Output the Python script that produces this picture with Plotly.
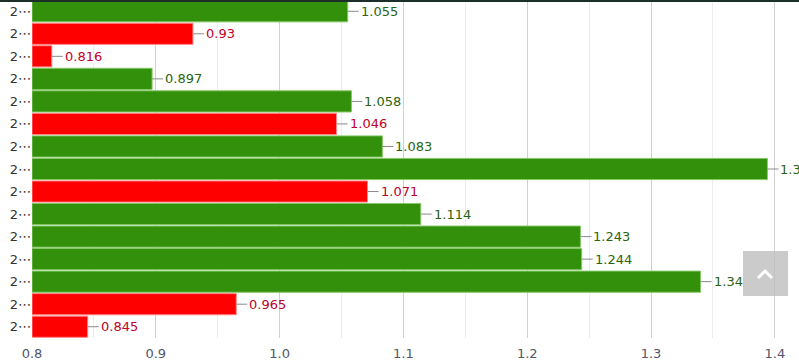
import plotly.graph_objects as go

categories = [f"c{i:02d}" for i in range(1, 16)]
tick_labels = ["2\u22ef"] * 15
values = [1.055, 0.93, 0.816, 0.897, 1.058, 1.046, 1.083, 1.394, 1.071, 1.114, 1.243, 1.244, 1.34, 0.965, 0.845]
is_up = [True, False, False, True, True, False, True, True, False, True, True, True, True, False, False]

BASE = 0.8
GREEN = "#33900a"
RED = "#ff0000"
bar_colors = [GREEN if u else RED for u in is_up]
edge_colors = ["#86c868" if u else "#ff8a8a" for u in is_up]
text_colors = ["#2a6410" if u else "#c0002a" for u in is_up]

fig = go.Figure()
fig.add_trace(go.Bar(
    y=categories, x=[v - BASE for v in values], orientation="h",
    base=BASE,
    marker=dict(color=bar_colors, line=dict(color=edge_colors, width=1)),
    hovertext=[f"{v:g}" for v in values], hoverinfo="text",
))

for c, v, tc in zip(categories, values, text_colors):
    fig.add_annotation(
        x=v, y=c, xref="x", yref="y", text=f"{v:g}",
        showarrow=True, arrowhead=0, arrowwidth=1, arrowcolor="#8a8a8a",
        ax=11, ay=0, xanchor="left", standoff=0, startstandoff=0,
        font=dict(family="DejaVu Sans", size=13, color=tc),
    )

# top dark rule
fig.add_shape(type="rect", xref="paper", yref="paper", x0=-0.1, x1=1.1,
              ysizemode="pixel", yanchor=1, y0=-2, y1=0,
              fillcolor="#1c2e28", line=dict(width=0))
# scroll-to-top button overlay
fig.add_shape(type="rect", xref="paper", yref="paper",
              x0=0.927, x1=0.9857, y0=0.1243, y1=0.2574,
              fillcolor="rgba(190,190,190,0.8)", line=dict(width=0))
fig.add_shape(type="path", xref="paper", yref="paper",
              path="M 0.9465 0.1775 L 0.9557 0.1982 L 0.9648 0.1775",
              line=dict(color="white", width=3))

fig.update_layout(
    width=799, height=363,
    margin=dict(l=32, r=0, t=0, b=25),
    paper_bgcolor="white", plot_bgcolor="white",
    showlegend=False, bargap=0.06,
    font=dict(family="DejaVu Sans", size=13, color="#444444"),
    xaxis=dict(
        range=[0.8, 1.4195], tickvals=[0.8, 0.9, 1.0, 1.1, 1.2, 1.3, 1.4],
        ticktext=["0.8", "0.9", "1.0", "1.1", "1.2", "1.3", "1.4"],
        showgrid=True, gridcolor="#d0d0d0", gridwidth=1, zeroline=False,
        minor=dict(dtick=0.05, tick0=0.8, showgrid=True, gridcolor="#ececec"),
        ticks="", showline=False, tickfont=dict(color="#555566"),
        ticklabelstandoff=6, automargin=False,
    ),
    yaxis=dict(
        tickvals=categories, ticktext=tick_labels, autorange="reversed",
        showgrid=False, zeroline=False, showline=False, ticks="",
        tickfont=dict(color="#333333"), automargin=False,
    ),
)

fig.write_html(
    "out.html",
    config={"displayModeBar": False},
    post_script="document.body.style.margin='0';document.body.style.overflow='hidden';",
)
